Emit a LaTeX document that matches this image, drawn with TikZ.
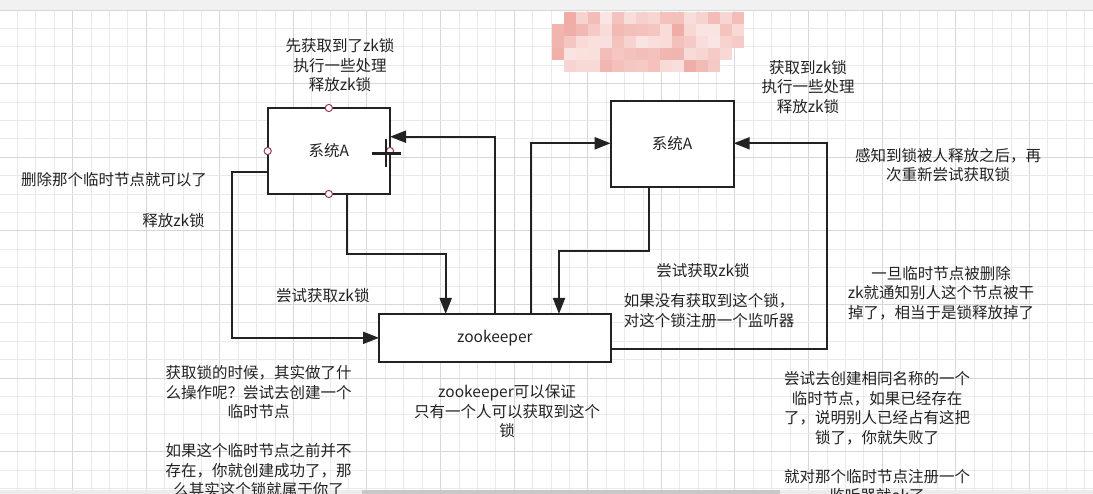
\documentclass[tikz,border=0pt]{standalone}
\usepackage{fontspec}
\setmainfont{Noto Sans CJK SC}
\usetikzlibrary{arrows.meta}
\definecolor{ink}{RGB}{34,34,34}
\definecolor{gridmin}{RGB}{233,233,233}
\definecolor{gridmaj}{RGB}{215,215,215}
\definecolor{pinkbase}{RGB}{232,128,118}
\definecolor{portred}{RGB}{150,60,80}
\definecolor{topband}{RGB}{241,241,241}
\definecolor{track}{RGB}{236,236,236}
\definecolor{thumb}{RGB}{200,200,200}
\begin{document}
\begin{tikzpicture}[x=1pt,y=-1pt,
  box/.style={draw=ink,line width=2.3pt,fill=white,inner sep=0pt,outer sep=0pt,
    font=\fontsize{15.5}{19.5}\selectfont,text=ink},
  lbl/.style={font=\fontsize{15.5}{19.5}\selectfont,text=ink,align=center,inner sep=0pt},
  conn/.style={draw=ink,line width=2pt,-{Triangle[length=16pt,width=12pt]}},
  port/.style={draw=portred,fill=white,line width=1pt},
  gmin/.style={draw=gridmin,line width=0.8pt},
  gmaj/.style={draw=gridmaj,line width=0.9pt}]
\useasboundingbox (0,0) rectangle (1093,494);
\clip (0,0) rectangle (1093,494);
\fill[white] (0,0) rectangle (1093,494);
% grid
\foreach \i in {0,...,60} {
  \pgfmathtruncatemacro\m{mod(\i+4,4)}
  \ifnum\m=0 \draw[gmaj] ({-1.1+18.4*\i},10) -- ++(0,484);
  \else \draw[gmin] ({-1.1+18.4*\i},10) -- ++(0,484); \fi
}
\foreach \j in {0,...,27} {
  \pgfmathtruncatemacro\m{mod(\j,4)}
  \ifnum\m=0 \draw[gmaj] (0,{10+18.4*\j}) -- ++(1093,0);
  \else \draw[gmin] (0,{10+18.4*\j}) -- ++(1093,0); \fi
}
% top band and scrollbar
\fill[topband] (0,0) rectangle (1093,10);
\fill[track] (0,489.5) rectangle (1093,494);
\fill[thumb] (362,489.5) rectangle (780,494);
% pixelated redaction
\pgfmathsetseed{11}
\foreach \r in {0,...,4} {
  \foreach \c in {0,...,15} {
    \pgfmathsetmacro\s{18+50*rnd}
    \pgfmathtruncatemacro\skip{
      (\r==0 && \c==0) || (\r==4 && (\c==0 || \c>=14)) || (\r==3 && \c==15) ? 1 : 0}
    \ifnum\skip=0
      \fill[pinkbase!\s!white] ({552+12*\c},{12+12*\r}) rectangle ++(12,12);
    \fi
  }
}
% boxes
\node[box,minimum width=122.3pt,minimum height=86pt] (sysA1) at (328.85,151) {系统A};
\node[box,minimum width=123pt,minimum height=86pt] (sysA2) at (672.2,144) {系统A};
\node[box,minimum width=231.7pt,minimum height=47.7pt] (zk) at (494.85,337.85) {zookeeper};
% bend points
\coordinate (b1) at (231.7,171.7);
\coordinate (b2a) at (347,254);
\coordinate (b2b) at (445.7,254);
\coordinate (b3) at (495.3,136.7);
\coordinate (b4) at (531,143.3);
\coordinate (b5a) at (649.3,250.7);
\coordinate (b5b) at (559,250.7);
\coordinate (b6a) at (826.7,349);
\coordinate (b6b) at (826.7,143.3);
% connectors
\draw[conn] (b1 -| sysA1.west) -- (b1) |- (zk.west);
\draw[conn] (b2a |- sysA1.south) -- (b2a) -- (b2b) -- (b2b |- zk.north);
\draw[conn] (b3 |- zk.north) -- (b3) -- (b3 -| sysA1.east);
\draw[conn] (b4 |- zk.north) -- (b4) -- (b4 -| sysA2.west);
\draw[conn] (b5a |- sysA2.south) -- (b5a) -- (b5b) -- (b5b |- zk.north);
\draw[conn] (b6a -| zk.east) -- (b6a) -- (b6b) -- (b6b -| sysA2.east);
% ports on the selected box
\draw[port] (sysA1.north) circle (3.6pt);
\draw[port] (sysA1.south) circle (3.6pt);
\draw[port] (sysA1.west) circle (3.6pt);
\draw[port] (sysA1.east) circle (3.6pt);
% move cursor
\draw[ink,line width=2.6pt] (371.7,153.3) -- (401,153.3);
\draw[ink,line width=2.6pt] (386,139.3) -- (386,167.3);
% labels
\node[lbl] (t1) at (340,65.5) {先获取到了zk锁\\执行一些处理\\释放zk锁};
\node[lbl] (t2) at (114,179.5) {删除那个临时节点就可以了};
\node[lbl] (t3) at (173.5,221) {释放zk锁};
\node[lbl] (t4) at (322.8,296) {尝试获取zk锁};
\node[lbl] (t5) at (808,87) {获取到zk锁\\执行一些处理\\释放zk锁};
\node[lbl] (t6) at (948,165) {感知到锁被人释放之后，再\\次重新尝试获取锁};
\node[lbl] (t7) at (703,271) {尝试获取zk锁};
\node[lbl] (t8) at (709,310.5) {如果没有获取到这个锁，\\对这个锁注册一个监听器};
\node[lbl] (t9) at (941,293) {一旦临时节点被删除\\zk就通知别人这个节点被干\\掉了，相当于是锁释放掉了};
\node[lbl] (t10) at (258.6,431.5) {获取锁的时候，其实做了什\\么操作呢？尝试去创建一个\\临时节点\\ \\如果这个临时节点之前并不\\存在，你就创建成功了，那\\么其实这个锁就属于你了};
\node[lbl] (t11) at (507,411.5) {zookeeper可以保证\\只有一个人可以获取到这个\\锁};
\node[lbl] (t12) at (877,437.5) {尝试去创建相同名称的一个\\临时节点，如果已经存在\\了，说明别人已经占有这把\\锁了，你就失败了\\ \\就对那个临时节点注册一个\\监听器就ok了};
\end{tikzpicture}
\end{document}
